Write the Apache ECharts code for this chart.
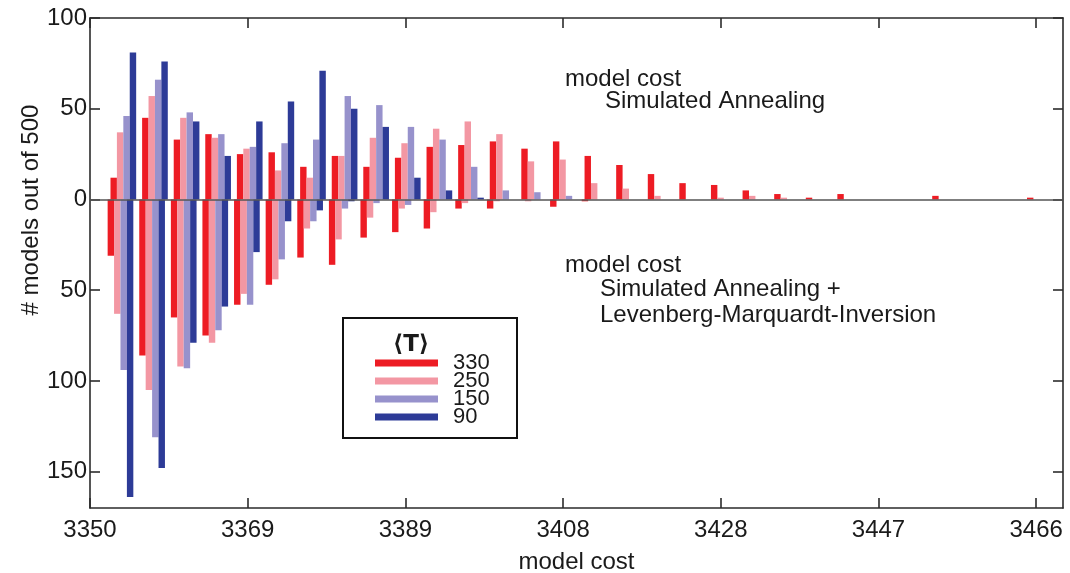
<!DOCTYPE html>
<html>
<head>
<meta charset="utf-8">
<script src="https://cdn.jsdelivr.net/npm/echarts@6/dist/echarts.min.js"></script>
<style>
  html, body { margin: 0; padding: 0; background: #fff; }
  #chart { width: 1070px; height: 573px; }
</style>
</head>
<body>
<div id="chart"></div>
<script>
// Histogram bin centres (model cost) for the two runs
const saBins = [3354.10, 3357.99, 3361.88, 3365.76, 3369.65, 3373.54, 3377.43, 3381.32, 3385.20, 3389.09,
                3392.98, 3396.87, 3400.76, 3404.64, 3408.53, 3412.42, 3416.31, 3420.20, 3424.08, 3427.97,
                3431.86, 3435.75, 3439.64, 3443.52, 3447.41, 3451.30, 3455.19, 3459.08, 3462.96, 3466.85];
const lmBins = [3353.75, 3357.64, 3361.53, 3365.41, 3369.30, 3373.19, 3377.08, 3380.97, 3384.85, 3388.74,
                3392.63, 3396.52, 3400.41, 3404.29, 3408.18, 3412.07, 3415.96, 3419.85, 3423.73, 3427.62,
                3431.51, 3435.40, 3439.29, 3443.17, 3447.06, 3450.95, 3454.84, 3458.73, 3462.61, 3466.50];

// Temperature classes <T>
const temps = ['330', '250', '150', '90'];

// # models out of 500 per bin: Simulated Annealing (drawn upward)
const sa330 = [12, 45, 33, 36, 25, 26, 18, 24, 18, 23, 29, 30, 32, 28, 32, 24, 19, 14, 9, 8, 5, 3, 1, 3, 0, 0, 2, 0, 0, 1];
const sa250 = [37, 57, 45, 34, 28, 16, 12, 24, 34, 31, 39, 43, 36, 21, 22, 9, 6, 2, 0, 1, 2, 1, 0, 0, 0, 0, 0, 0, 0, 0];
const sa150 = [46, 66, 48, 36, 29, 31, 33, 57, 52, 40, 33, 18, 5, 4, 2, 0, 0, 0, 0, 0, 0, 0, 0, 0, 0, 0, 0, 0, 0, 0];
const sa90  = [81, 76, 43, 24, 43, 54, 71, 50, 40, 12, 5, 1, 0, 0, 0, 0, 0, 0, 0, 0, 0, 0, 0, 0, 0, 0, 0, 0, 0, 0];

// # models out of 500 per bin: Simulated Annealing + Levenberg-Marquardt (drawn downward)
const lm330 = [31, 86, 65, 75, 58, 47, 32, 36, 21, 18, 16, 5, 5, 0, 4, 1, 0, 0, 0, 0, 0, 0, 0, 0, 0, 0, 0, 0, 0, 0];
const lm250 = [63, 105, 92, 79, 52, 44, 16, 22, 10, 5, 7, 2, 1, 1, 0, 0, 0, 0, 0, 0, 0, 0, 0, 0, 0, 0, 0, 0, 0, 0];
const lm150 = [94, 131, 93, 72, 58, 33, 12, 5, 2, 3, 0, 0, 0, 0, 0, 0, 0, 0, 0, 0, 0, 0, 0, 0, 0, 0, 0, 0, 0, 0];
const lm90  = [164, 148, 79, 59, 29, 12, 6, 1, 0, 0, 0, 0, 0, 0, 0, 0, 0, 0, 0, 0, 0, 0, 0, 0, 0, 0, 0, 0, 0, 0];

// Axis ticks
const costTicks = [3350, 3369.4, 3388.8, 3408.2, 3427.6, 3447, 3466.4];
const costTickLabels = ['3350', '3369', '3389', '3408', '3428', '3447', '3466'];
const countTicks = [-150, -100, -50, 0, 50, 100];
const countTickLabels = ['150', '100', '50', '0', '50', '100'];

const colors = ['#ed1c24', '#f397a3', '#9792cc', '#2d3b97'];
const upData = [sa330, sa250, sa150, sa90];
const downData = [lm330, lm250, lm150, lm90];

const FONT = '"Liberation Sans", Arial, Helvetica, sans-serif';
const INK = '#1a1a1a';
const FRAME = '#2b2b2b';
const BAR_SLOT = 0.79;   // width of one bar within a bin group, in cost units

function lookup(ticks, labels, v) {
  for (let i = 0; i < ticks.length; i++) {
    if (Math.abs(ticks[i] - v) < 1e-6) return labels[i];
  }
  return '';
}

function barSeries(name, color, slot, bins, counts, sign, withZeroLine) {
  const s = {
    type: 'custom',
    name: name,
    clip: true,
    xAxisIndex: 0,
    yAxisIndex: 0,
    encode: { x: 0, y: 1 },
    itemStyle: { color: color },
    data: bins.map((b, i) => [b, sign * counts[i]]),
    renderItem: function (params, api) {
      const v = api.value(1);
      if (!v) return null;
      const c = api.value(0) + (slot - 1.5) * BAR_SLOT;
      const p0 = api.coord([c - BAR_SLOT / 2, 0]);
      const p1 = api.coord([c + BAR_SLOT / 2, v]);
      return {
        type: 'rect',
        shape: {
          x: p0[0],
          y: Math.min(p0[1], p1[1]),
          width: p1[0] - p0[0],
          height: Math.abs(p1[1] - p0[1])
        },
        style: { fill: color }
      };
    }
  };
  if (withZeroLine) {
    s.markLine = {
      silent: true,
      symbol: 'none',
      label: { show: false },
      lineStyle: { color: '#555', width: 1.6, type: 'solid' },
      data: [{ yAxis: 0 }],
      z: 10
    };
  }
  return s;
}

const series = [];
temps.forEach((t, k) => {
  series.push(barSeries(t, colors[k], k, saBins, upData[k], 1, k === 0));
  series.push(barSeries(t, colors[k], k, lmBins, downData[k], -1, false));
});

const lineStyle = { color: FRAME, width: 1.6 };

function costAxis(position, showLabels) {
  return {
    type: 'value',
    position: position,
    min: 3350,
    max: 3469.7,
    axisLine: { show: true, onZero: false, lineStyle: lineStyle },
    axisTick: { show: true, inside: true, length: 10, customValues: costTicks, lineStyle: lineStyle },
    axisLabel: {
      show: showLabels,
      customValues: costTicks,
      formatter: v => lookup(costTicks, costTickLabels, v),
      fontFamily: FONT, fontSize: 24, color: INK, margin: 10
    },
    splitLine: { show: false },
    name: showLabels ? 'model cost' : '',
    nameLocation: 'middle',
    nameGap: 42,
    nameTextStyle: { fontFamily: FONT, fontSize: 24, color: INK }
  };
}

function countAxis(position, showLabels) {
  return {
    type: 'value',
    position: position,
    min: -170,
    max: 100,
    axisLine: { show: true, onZero: false, lineStyle: lineStyle },
    axisTick: { show: true, inside: true, length: 10, customValues: countTicks, lineStyle: lineStyle },
    axisLabel: {
      show: showLabels,
      customValues: countTicks,
      formatter: v => lookup(countTicks, countTickLabels, v),
      fontFamily: FONT, fontSize: 24, color: INK, margin: 3
    },
    splitLine: { show: false }
  };
}

function note(text, x, y) {
  return {
    type: 'text', x: x, y: y, z: 20,
    style: { text: text, font: '24px ' + FONT, fill: INK, align: 'left', verticalAlign: 'middle' }
  };
}

const option = {
  animation: false,
  backgroundColor: '#ffffff',
  grid: { left: 90, top: 18, right: 7, bottom: 65, containLabel: false, outerBoundsMode: 'none' },
  xAxis: [costAxis('bottom', true), costAxis('top', false)],
  yAxis: [countAxis('left', true), countAxis('right', false)],
  legend: {
    orient: 'vertical',
    left: 375,
    top: 352,
    padding: 0,
    icon: 'rect',
    itemWidth: 63,
    itemHeight: 7,
    itemGap: -4,
    selectedMode: false,
    data: temps,
    textStyle: { fontFamily: FONT, fontSize: 22, color: INK, padding: [0, 0, 0, 10] },
    z: 30
  },
  graphic: [
    {
      type: 'rect', z: 25,
      shape: { x: 343, y: 318, width: 174, height: 120 },
      style: { fill: '#ffffff', stroke: '#111', lineWidth: 2 }
    },
    {
      type: 'text', x: 411, y: 345, z: 30,
      style: { text: '\u27E8T\u27E9', font: 'bold 23px "DejaVu Sans", ' + FONT, fill: INK, align: 'center', verticalAlign: 'middle' }
    },
    {
      type: 'text', x: 31, y: 210, rotation: Math.PI / 2, z: 20,
      style: { text: '# models out of 500', font: '24px ' + FONT, fill: INK, align: 'center', verticalAlign: 'middle' }
    },
    note('model cost', 565, 79.5),
    note('Simulated Annealing', 605, 101),
    note('model cost', 565, 265),
    note('Simulated Annealing +', 600, 289.5),
    note('Levenberg-Marquardt-Inversion', 600, 315.3)
  ],
  series: series
};

const chart = echarts.init(document.getElementById('chart'), null, { renderer: 'canvas' });
chart.setOption(option);
</script>
</body>
</html>
